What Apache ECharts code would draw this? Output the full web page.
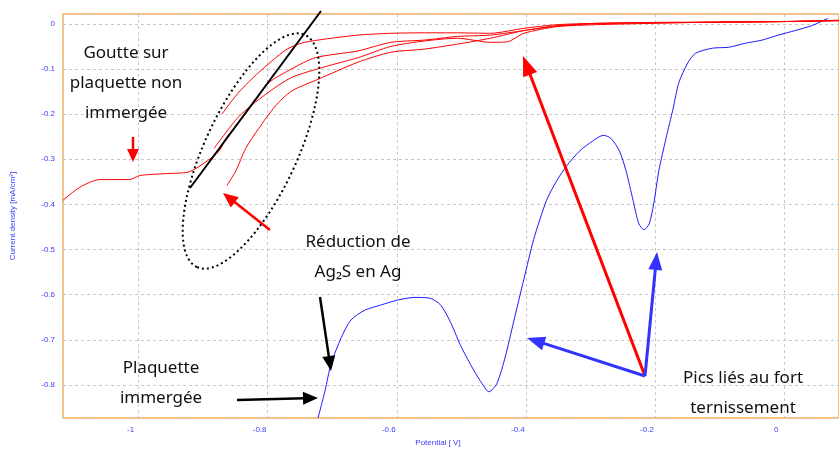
<!DOCTYPE html>
<html>
<head>
<meta charset="utf-8">
<title>Voltammogrammes</title>
<script src="https://cdn.jsdelivr.net/npm/echarts@6.0.0/dist/echarts.min.js"></script>
<style>
    html, body { margin: 0; padding: 0; background: #fff; }
    #chart { width: 839px; height: 452px; }
</style>
</head>
<body>
<div id="chart"></div>
<script>
// plaquette immergée (bleu)
var blueE = [-0.722, -0.711, -0.702, -0.686, -0.671, -0.649, -0.625, -0.599, -0.572, -0.548, -0.532, -0.517, -0.502, -0.486, -0.471, -0.457, -0.445, -0.432, -0.419, -0.403, -0.388, -0.368, -0.352, -0.337, -0.317, -0.295, -0.280, -0.268, -0.255, -0.245, -0.234, -0.225, -0.217, -0.209, -0.202, -0.194, -0.183, -0.172, -0.163, -0.149, -0.137, -0.111, -0.086, -0.060, -0.034, -0.009, 0.017, 0.043, 0.068];
var blueI = [-0.873, -0.812, -0.754, -0.695, -0.656, -0.634, -0.623, -0.612, -0.606, -0.608, -0.623, -0.660, -0.710, -0.754, -0.790, -0.815, -0.797, -0.738, -0.660, -0.565, -0.478, -0.391, -0.347, -0.315, -0.282, -0.258, -0.247, -0.254, -0.282, -0.325, -0.391, -0.443, -0.456, -0.443, -0.399, -0.325, -0.254, -0.188, -0.130, -0.086, -0.065, -0.054, -0.052, -0.043, -0.036, -0.025, -0.015, -0.004, 0.012];

// goutte sur plaquette non immergée (rouge)
var redLE = [-1.117, -1.091, -1.060, -1.014, -0.998, -0.960, -0.922, -0.898, -0.875, -0.865, -0.840, -0.814, -0.798, -0.763, -0.726, -0.660, -0.609, -0.557, -0.506, -0.455, -0.403, -0.352, -0.291, -0.200, 0, 0.085];
var redLI = [-0.391, -0.362, -0.345, -0.345, -0.336, -0.332, -0.328, -0.308, -0.282, -0.254, -0.210, -0.160, -0.130, -0.100, -0.075, -0.060, -0.041, -0.036, -0.028, -0.025, -0.015, -0.004, 0, 0.003, 0.005, 0.008];
var redAE = [-0.871, -0.845, -0.814, -0.772, -0.748, -0.722, -0.660, -0.609, -0.557, -0.506, -0.455, -0.403, -0.352, -0.291, -0.137, 0, 0.085];
var redAI = [-0.200, -0.152, -0.108, -0.058, -0.043, -0.036, -0.025, -0.021, -0.020, -0.020, -0.021, -0.010, -0.002, 0.001, 0.003, 0.005, 0.007];
var redCE = [-0.883, -0.845, -0.803, -0.763, -0.711, -0.660, -0.609, -0.557, -0.506, -0.455, -0.429, -0.403, -0.352, -0.291, -0.137, 0, 0.085];
var redCI = [-0.276, -0.206, -0.156, -0.119, -0.095, -0.075, -0.050, -0.038, -0.032, -0.041, -0.040, -0.021, -0.006, 0.001, 0.003, 0.005, 0.007];
var redDE = [-0.863, -0.849, -0.834, -0.814, -0.788, -0.763, -0.722, -0.660, -0.609, -0.557, -0.506, -0.455, -0.403, -0.352, -0.291, -0.137, 0, 0.085];
var redDI = [-0.358, -0.325, -0.276, -0.232, -0.182, -0.149, -0.123, -0.085, -0.063, -0.056, -0.045, -0.032, -0.015, -0.006, -0.002, 0.003, 0.005, 0.007];

var myChart = echarts.init(document.getElementById('chart'));

function pairs(xs, ys) {
    var out = [];
    for (var i = 0; i < xs.length; i++) {
        out.push([xs[i], ys[i]]);
    }
    return out;
}

function curve(name, xs, ys, color) {
    return {
        name: name,
        type: 'line',
        data: pairs(xs, ys),
        showSymbol: false,
        smooth: 0.25,
        lineStyle: { color: color, width: 1 },
        z: 3
    };
}

// fleche = trait + tete triangulaire
function arrow(x1, y1, x2, y2, color, w, hl, hw) {
    var dx = x2 - x1, dy = y2 - y1;
    var len = Math.sqrt(dx * dx + dy * dy);
    var ux = dx / len, uy = dy / len;
    var bx = x2 - ux * hl, by = y2 - uy * hl;
    return [{
        type: 'line',
        shape: { x1: x1, y1: y1, x2: bx + ux * 2, y2: by + uy * 2 },
        style: { stroke: color, lineWidth: w },
        z: 100
    }, {
        type: 'polygon',
        shape: { points: [[x2, y2], [bx - uy * hw / 2, by + ux * hw / 2], [bx + uy * hw / 2, by - ux * hw / 2]] },
        style: { fill: color },
        z: 100
    }];
}

function label(text, x, y) {
    return {
        type: 'text',
        x: x,
        y: y,
        style: {
            text: text,
            fill: '#111',
            font: '17px "Noto Sans"',
            lineHeight: 30,
            align: 'center',
            verticalAlign: 'middle'
        },
        z: 100
    };
}

var axisBlue = '#3a3aff';

var graphics = [
    label('Goutte sur\nplaquette non\nimmergée', 126, 83),
    label('Réduction de\nAg₂S en Ag', 358, 257),
    label('Plaquette\nimmergée', 161, 383),
    label('Pics liés au fort\nternissement', 743, 393),
    {
        type: 'line',
        shape: { x1: 190, y1: 188, x2: 321, y2: 11 },
        style: { stroke: '#000', lineWidth: 2 },
        z: 100
    },
    {
        type: 'ellipse',
        x: 251,
        y: 151,
        rotation: 65 * Math.PI / 180,
        shape: { cx: 0, cy: 0, rx: 128, ry: 46 },
        style: { fill: null, stroke: '#000', lineWidth: 2, lineDash: [2, 3] },
        z: 100
    }
];
graphics = graphics
    .concat(arrow(133, 137, 133, 162, '#ff0000', 2.5, 13, 12))
    .concat(arrow(270, 230, 223, 193, '#ff0000', 2.5, 15, 13))
    .concat(arrow(320, 297, 331, 371, '#000', 2.5, 15, 13))
    .concat(arrow(237, 400, 318, 398, '#000', 2.5, 15, 13))
    .concat(arrow(645, 376, 523, 56, '#ff0000', 3, 20, 15))
    .concat(arrow(645, 376, 527, 338, '#3333ff', 3, 18, 14))
    .concat(arrow(645, 376, 657, 252, '#3333ff', 3, 18, 14));

var option = {
    animation: false,
    grid: {
        left: 63,
        top: 14,
        right: -5,
        bottom: 27,
        show: true,
        borderColor: '#ffbf78',
        borderWidth: 2
    },
    xAxis: {
        type: 'value',
        min: -1.117,
        max: 0.085,
        splitNumber: 6,
        name: 'Potential [ V]',
        nameLocation: 'middle',
        nameGap: 18,
        nameTextStyle: { color: axisBlue, fontSize: 8, fontFamily: 'Arial', padding: [0, 26, 0, 0] },
        axisLine: { show: false },
        axisTick: { show: false },
        axisLabel: {
            color: axisBlue,
            fontSize: 8,
            fontFamily: 'Arial',
            margin: 8,
            padding: [0, 16, 0, 0],
            showMinLabel: false,
            showMaxLabel: false
        },
        splitLine: { lineStyle: { color: '#c8c8c8', type: [3, 3], width: 1 } }
    },
    yAxis: {
        type: 'value',
        min: -0.8733,
        max: 0.0217,
        splitNumber: 9,
        name: 'Current density [mA/cm²]',
        nameLocation: 'middle',
        nameGap: 46,
        nameTextStyle: { color: axisBlue, fontSize: 8, fontFamily: 'Arial' },
        axisLine: { show: false },
        axisTick: { show: false },
        axisLabel: {
            color: axisBlue,
            fontSize: 8,
            fontFamily: 'Arial',
            margin: 8,
            showMinLabel: false,
            showMaxLabel: false
        },
        splitLine: { lineStyle: { color: '#c8c8c8', type: [3, 3], width: 1 } }
    },
    series: [
        curve('immergée', blueE, blueI, '#1a1aff'),
        curve('goutte 1', redLE, redLI, '#ff0000'),
        curve('goutte 2', redAE, redAI, '#ff0000'),
        curve('goutte 3', redCE, redCI, '#ff0000'),
        curve('goutte 4', redDE, redDI, '#ff0000')
    ],
    graphic: graphics
};

myChart.setOption(option);
</script>
</body>
</html>
